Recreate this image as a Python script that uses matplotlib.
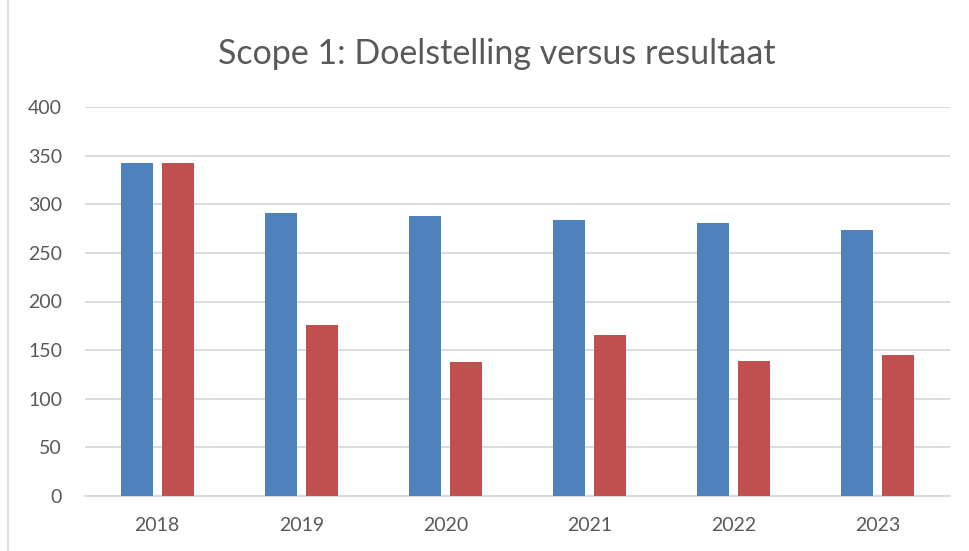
import matplotlib
matplotlib.use('Agg')
import matplotlib.pyplot as plt
import numpy as np

plt.rcParams['font.family'] = ['Lato', 'DejaVu Sans']

jaren = ['2018', '2019', '2020', '2021', '2022', '2023']
doelstelling = [342, 291, 288, 284, 281, 274]
resultaat = [342, 176, 138, 166, 139, 145]

blauw = '#4f81bd'
rood = '#c0504d'
grijs = '#595959'

fig = plt.figure(figsize=(9.7, 5.51), dpi=100)
ax = fig.add_axes([85 / 970, 1 - 496 / 551, 865 / 970, 389 / 551])

x = np.arange(len(jaren))
w = 0.222
ax.bar(x - 0.142, doelstelling, width=w, color=blauw, zorder=3)
ax.bar(x + 0.142, resultaat, width=w, color=rood, zorder=3)

ax.set_xlim(-0.5, len(jaren) - 0.5)
ax.set_ylim(0, 400)
ax.set_yticks(range(0, 401, 50))
ax.set_xticks(x)
ax.set_xticklabels(jaren)
ax.yaxis.grid(True, color='#d9d9d9', linewidth=1.3, zorder=0)
ax.tick_params(axis='both', length=0, labelsize=14, colors=grijs)
ax.tick_params(axis='y', pad=16.5)
ax.tick_params(axis='x', pad=15)
for s in ['top', 'right', 'left']:
    ax.spines[s].set_visible(False)
ax.spines['bottom'].set_color('#d9d9d9')
ax.spines['bottom'].set_linewidth(1.3)

fig.text(497 / 970, 1 - 54 / 551, 'Scope 1: Doelstelling versus resultaat',
         ha='center', va='center', fontsize=24.5, color=grijs)

# kader om de grafiek
rand = plt.Rectangle((8 / 970, -0.1), 1.2, 1.2, transform=fig.transFigure,
                     fill=False, edgecolor='#d9d9d9', linewidth=1.3)
fig.patches.append(rand)

fig.savefig('out.png', dpi=100)
